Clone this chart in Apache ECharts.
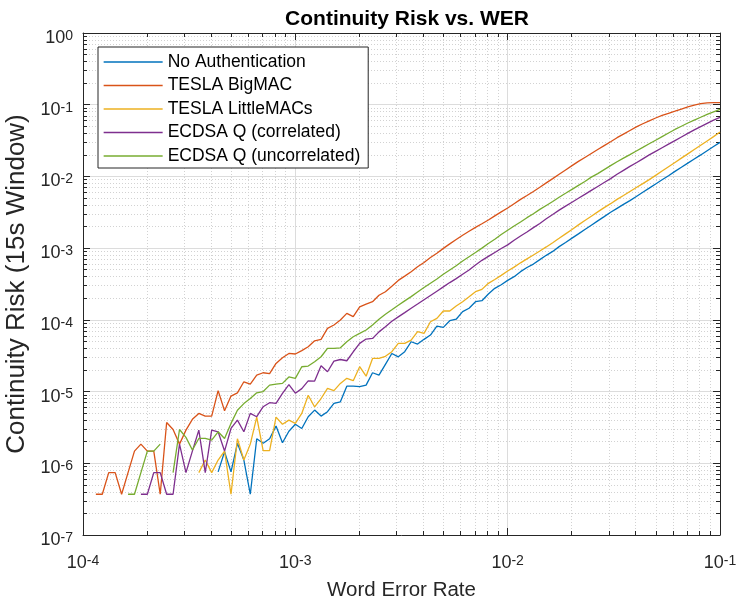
<!DOCTYPE html>
<html>
<head>
<meta charset="utf-8">
<script src="https://cdn.jsdelivr.net/npm/echarts@6/dist/echarts.min.js"></script>
<style>
html,body{margin:0;padding:0;background:#fff;}
#chart{width:739px;height:605px;}
</style>
</head>
<body>
<div id="chart"></div>
<script>
// Word error rate sample points (log spaced, 1e-4 .. 1e-1)
var wer = [
1.0000e-4,1.0723e-4,1.1498e-4,1.2328e-4,1.3219e-4,1.4175e-4,1.5199e-4,1.6298e-4,1.7475e-4,1.8738e-4,2.0092e-4,2.1544e-4,2.3101e-4,2.4771e-4,2.6561e-4,2.8480e-4,3.0539e-4,3.2745e-4,3.5112e-4,3.7649e-4,4.0370e-4,4.3288e-4,4.6416e-4,4.9770e-4,5.3367e-4,5.7224e-4,6.1359e-4,6.5793e-4,7.0548e-4,7.5646e-4,8.1113e-4,8.6975e-4,9.3260e-4,
1.0000e-3,1.0723e-3,1.1498e-3,1.2328e-3,1.3219e-3,1.4175e-3,1.5199e-3,1.6298e-3,1.7475e-3,1.8738e-3,2.0092e-3,2.1544e-3,2.3101e-3,2.4771e-3,2.6561e-3,2.8480e-3,3.0539e-3,3.2745e-3,3.5112e-3,3.7649e-3,4.0370e-3,4.3288e-3,4.6416e-3,4.9770e-3,5.3367e-3,5.7224e-3,6.1359e-3,6.5793e-3,7.0548e-3,7.5646e-3,8.1113e-3,8.6975e-3,9.3260e-3,
1.0000e-2,1.0723e-2,1.1498e-2,1.2328e-2,1.3219e-2,1.4175e-2,1.5199e-2,1.6298e-2,1.7475e-2,1.8738e-2,2.0092e-2,2.1544e-2,2.3101e-2,2.4771e-2,2.6561e-2,2.8480e-2,3.0539e-2,3.2745e-2,3.5112e-2,3.7649e-2,4.0370e-2,4.3288e-2,4.6416e-2,4.9770e-2,5.3367e-2,5.7224e-2,6.1359e-2,6.5793e-2,7.0548e-2,7.5646e-2,8.1113e-2,8.6975e-2,9.3260e-2,
1.0000e-1
];

var noAuth = [
null,null,null,null,null,null,null,null,null,null,null,null,null,null,null,null,null,null,null,null,null,
7.6e-7,1.45e-6,7.6e-7,1.9e-6,1.11e-6,3.7e-7,2.2e-6,1.9e-6,2.2e-6,3.3e-6,
1.93e-6,2.8e-6,3.5e-6,3.06e-6,4.46e-6,5.52e-6,4.55e-6,5.24e-6,6.84e-6,7.2e-6,
1.19e-5,1.19e-5,1.17e-5,1.23e-5,1.83e-5,1.7e-5,2.4e-5,3.4e-5,3.05e-5,3.6e-5,
4.95e-5,4.6e-5,5.35e-5,6.14e-5,8.2e-5,7.85e-5,9.73e-5,1.02e-4,1.3e-4,1.45e-4,
1.79e-4,1.85e-4,2.29e-4,2.75e-4,3.09e-4,3.55e-4,4.0e-4,4.7e-4,5.37e-4,6.0e-4,
6.92e-4,7.94e-4,9.0e-4,1.05e-3,1.2e-3,1.38e-3,1.58e-3,1.82e-3,2.09e-3,2.4e-3,
2.75e-3,3.16e-3,3.59e-3,4.07e-3,4.6e-3,5.25e-3,6.03e-3,6.87e-3,7.85e-3,8.97e-3,
0.01023,0.01175,0.0134,0.01531,0.0175,0.01995,0.02286,0.02612,0.02985
];

var teslaBig = [
null,null,
3.7e-7,3.7e-7,7.4e-7,7.4e-7,3.7e-7,7.4e-7,1.48e-6,1.85e-6,1.48e-6,
1.48e-6,3.7e-7,3.7e-6,2.96e-6,1.85e-6,2.9e-6,4.1e-6,4.96e-6,4.55e-6,4.55e-6,
1.03e-5,5.4e-6,8.65e-6,9.6e-6,1.37e-5,1.27e-5,1.7e-5,1.83e-5,1.78e-5,2.47e-5,
2.96e-5,3.4e-5,3.34e-5,3.72e-5,4.22e-5,5.11e-5,5.35e-5,7.6e-5,8.47e-5,9.93e-5,
1.23e-4,1.11e-4,1.52e-4,1.66e-4,1.79e-4,2.2e-4,2.47e-4,2.95e-4,3.55e-4,4.07e-4,
4.68e-4,5.5e-4,6.31e-4,7.41e-4,8.51e-4,9.93e-4,1.148e-3,1.318e-3,1.514e-3,1.718e-3,
1.95e-3,2.19e-3,2.47e-3,2.82e-3,3.2e-3,3.63e-3,4.17e-3,4.79e-3,5.43e-3,6.17e-3,
7.08e-3,8.13e-3,9.33e-3,0.01072,0.0123,0.01413,0.01622,0.0184,0.0209,0.0237,
0.0269,0.0305,0.0347,0.0389,0.0437,0.049,0.0543,0.0596,0.0653,0.0708,
0.0759,0.0813,0.0871,0.0933,0.0989,0.1035,0.1059,0.1072,0.1072
];

var teslaLittle = [
null,null,null,null,null,null,null,null,null,null,null,null,null,null,null,null,null,null,
7.4e-7,1.11e-6,7.4e-7,1.11e-6,1.48e-6,3.7e-7,2.2e-6,1.11e-6,1.85e-6,4.4e-6,1.5e-6,1.5e-6,4.4e-6,
3.5e-6,4.0e-6,3.6e-6,4.96e-6,8.9e-6,6.1e-6,8.0e-6,1.11e-5,1.03e-5,1.3e-5,
1.53e-5,1.42e-5,2.22e-5,1.64e-5,2.9e-5,2.9e-5,3.1e-5,3.6e-5,4.7e-5,4.7e-5,
5.22e-5,6.84e-5,6.47e-5,9.42e-5,1.05e-4,1.33e-4,1.33e-4,1.56e-4,1.79e-4,2.1e-4,
2.47e-4,2.66e-4,3.23e-4,3.66e-4,4.17e-4,4.79e-4,5.43e-4,6.24e-4,7.08e-4,8.04e-4,
9.12e-4,1.04e-3,1.19e-3,1.37e-3,1.58e-3,1.82e-3,2.11e-3,2.43e-3,2.79e-3,3.2e-3,
3.67e-3,4.17e-3,4.79e-3,5.43e-3,6.17e-3,7.0e-3,7.94e-3,9.02e-3,0.01035,0.01189,
0.01365,0.01567,0.01799,0.02065,0.02371,0.02723,0.03126,0.03589,0.04169
];

var ecdsaCorr = [
null,null,null,null,null,null,null,null,null,
3.7e-7,3.7e-7,7.4e-7,7.4e-7,3.7e-7,3.7e-7,1.85e-6,7.4e-7,1.48e-6,2.9e-6,7.4e-7,
2.9e-6,2.75e-6,1.48e-6,3.06e-6,4.0e-6,2.75e-6,4.97e-6,4.46e-6,6.15e-6,7.0e-6,
6.85e-6,9.45e-6,1.25e-5,9.5e-6,1.1e-5,1.41e-5,1.4e-5,2.29e-5,1.89e-5,2.66e-5,
2.8e-5,2.69e-5,3.59e-5,4.7e-5,5.4e-5,5.5e-5,6.8e-5,8.0e-5,9.55e-5,1.1e-4,
1.26e-4,1.45e-4,1.66e-4,1.91e-4,2.19e-4,2.51e-4,2.88e-4,3.31e-4,3.76e-4,4.32e-4,
4.96e-4,5.82e-4,6.76e-4,7.67e-4,8.71e-4,9.89e-4,1.11e-3,1.29e-3,1.48e-3,1.68e-3,
1.93e-3,2.21e-3,2.57e-3,2.95e-3,3.39e-3,3.85e-3,4.37e-3,4.96e-3,5.62e-3,6.38e-3,
7.24e-3,8.22e-3,9.33e-3,0.01072,0.01216,0.0138,0.01549,0.01758,0.01995,0.02239,
0.02512,0.02818,0.03162,0.03548,0.03981,0.04467,0.04955,0.05495,0.06095,0.06668
];

var ecdsaUncorr = [
null,null,null,null,null,null,null,
3.7e-7,3.7e-7,7.4e-7,1.48e-6,1.48e-6,1.85e-6,null,7.4e-7,2.96e-6,2.3e-6,1.53e-6,2.22e-6,2.22e-6,
2.1e-6,2.75e-6,2.22e-6,3.6e-6,5.5e-6,6.8e-6,8.0e-6,9.6e-6,1.0e-5,1.23e-5,
1.27e-5,1.3e-5,1.6e-5,1.53e-5,2.22e-5,2.27e-5,2.61e-5,3.06e-5,4.0e-5,4.0e-5,
4.08e-5,4.95e-5,5.82e-5,6.47e-5,7.21e-5,8.47e-5,1.02e-4,1.2e-4,1.38e-4,1.6e-4,
1.84e-4,2.11e-4,2.45e-4,2.82e-4,3.24e-4,3.72e-4,4.32e-4,4.95e-4,5.69e-4,6.61e-4,
7.59e-4,8.71e-4,1.0e-3,1.16e-3,1.33e-3,1.55e-3,1.78e-3,2.04e-3,2.32e-3,2.66e-3,
3.02e-3,3.47e-3,3.94e-3,4.47e-3,5.13e-3,5.82e-3,6.61e-3,7.5e-3,8.51e-3,9.77e-3,
0.01096,0.01245,0.01413,0.01603,0.01799,0.02018,0.02265,0.02541,0.02851,0.03199,
0.03589,0.04027,0.04519,0.05012,0.05559,0.06095,0.06683,0.07328,0.07943,0.0861
];

var seriesNames = ['No Authentication','TESLA BigMAC','TESLA LittleMACs','ECDSA Q (correlated)','ECDSA Q (uncorrelated)'];
var seriesValues = [noAuth, teslaBig, teslaLittle, ecdsaCorr, ecdsaUncorr];
var seriesColors = ['#0072BD','#D95319','#EDB120','#7E2F8E','#77AC30'];

var xTickExponents = [-4,-3,-2,-1];
var yTickExponents = [-7,-6,-5,-4,-3,-2,-1,0];

var FONT = '"Liberation Sans", Arial, Helvetica, sans-serif';
var AX = '#262626';

function expLabel(v, exps) {
  var e = Math.round(Math.log(v) / Math.LN10);
  if (exps.indexOf(e) < 0) return '';
  return '{b|10}{s|' + e + '}';
}
var richX = {
  b: {fontSize: 18, fontFamily: FONT, color: AX, lineHeight: 18, verticalAlign: 'bottom'},
  s: {fontSize: 14, fontFamily: FONT, color: AX, lineHeight: 8, verticalAlign: 'top'}
};

function buildData(vals) {
  return wer.map(function (x, i) {
    var y = vals[i];
    return [x, (y === null || y === undefined) ? '-' : y];
  });
}

var series = seriesNames.map(function (name, i) {
  return {
    name: name,
    type: 'line',
    data: buildData(seriesValues[i]),
    symbol: 'none',
    showSymbol: false,
    connectNulls: false,
    lineStyle: {color: seriesColors[i], width: 1.3},
    itemStyle: {color: seriesColors[i]},
    emphasis: {disabled: true},
    animation: false,
    z: 3 + i
  };
});

var chart = echarts.init(document.getElementById('chart'), null, {renderer: 'canvas'});

var gridLine = {show: true, lineStyle: {color: '#dcdcdc', width: 1, type: 'solid'}};
var minorGridLine = {show: true, lineStyle: {color: '#d2d2d2', width: 1, type: [1, 2]}};

chart.setOption({
  backgroundColor: '#ffffff',
  animation: false,
  title: {
    text: 'Continuity Risk vs. WER',
    left: 402,
    top: 4,
    textAlign: 'center',
    textStyle: {fontFamily: FONT, fontSize: 21, fontWeight: 'bold', color: '#000'}
  },
  legend: {
    data: seriesNames,
    orient: 'vertical',
    left: 98,
    top: 47,
    padding: [6, 8, 3, 5],
    itemWidth: 59,
    itemHeight: 14,
    itemGap: 5.5,
    itemStyle: {opacity: 0, borderWidth: 0},
    lineStyle: {width: 1.3},
    backgroundColor: '#ffffff',
    borderColor: AX,
    borderWidth: 1,
    borderRadius: 0,
    selectedMode: false,
    textStyle: {fontFamily: FONT, fontSize: 17.5, color: '#000'}
  },
  grid: {left: 83, right: 19, top: 33, bottom: 70, containLabel: false, outerBoundsMode: 'none'},
  xAxis: [{
    type: 'log', logBase: 10, min: 1e-4, max: 1e-1,
    name: 'Word Error Rate', nameLocation: 'middle', nameGap: 45,
    nameTextStyle: {fontFamily: FONT, fontSize: 20.5, color: AX},
    axisLine: {show: true, lineStyle: {color: AX, width: 1}},
    axisTick: {show: true, inside: true, length: 7, lineStyle: {color: AX}},
    minorTick: {show: true, splitNumber: 9, length: 4, lineStyle: {color: AX}},
    axisLabel: {margin: 19, formatter: function (v) { return expLabel(v, xTickExponents); }, rich: richX},
    splitLine: gridLine,
    minorSplitLine: minorGridLine
  }, {
    type: 'log', logBase: 10, min: 1e-4, max: 1e-1, position: 'top',
    axisLine: {show: true, lineStyle: {color: AX, width: 1}},
    axisTick: {show: true, inside: true, length: 7, lineStyle: {color: AX}},
    minorTick: {show: true, splitNumber: 9, length: 4, lineStyle: {color: AX}},
    axisLabel: {show: false},
    splitLine: {show: false}
  }],
  yAxis: [{
    type: 'log', logBase: 10, min: 1e-7, max: 1,
    name: 'Continuity Risk (15s Window)', nameLocation: 'middle', nameGap: 46,
    nameTextStyle: {fontFamily: FONT, fontSize: 26, color: AX},
    axisLine: {show: true, lineStyle: {color: AX, width: 1}},
    axisTick: {show: true, inside: true, length: 7, lineStyle: {color: AX}},
    minorTick: {show: true, splitNumber: 9, length: 4, lineStyle: {color: AX}},
    axisLabel: {margin: 10, padding: [10, 0, 0, 0], formatter: function (v) { return expLabel(v, yTickExponents); }, rich: richX},
    splitLine: gridLine,
    minorSplitLine: minorGridLine
  }, {
    type: 'log', logBase: 10, min: 1e-7, max: 1, position: 'right',
    axisLine: {show: true, lineStyle: {color: AX, width: 1}},
    axisTick: {show: true, inside: true, length: 7, lineStyle: {color: AX}},
    minorTick: {show: true, splitNumber: 9, length: 4, lineStyle: {color: AX}},
    axisLabel: {show: false},
    splitLine: {show: false}
  }],
  series: series
});
</script>
</body>
</html>
